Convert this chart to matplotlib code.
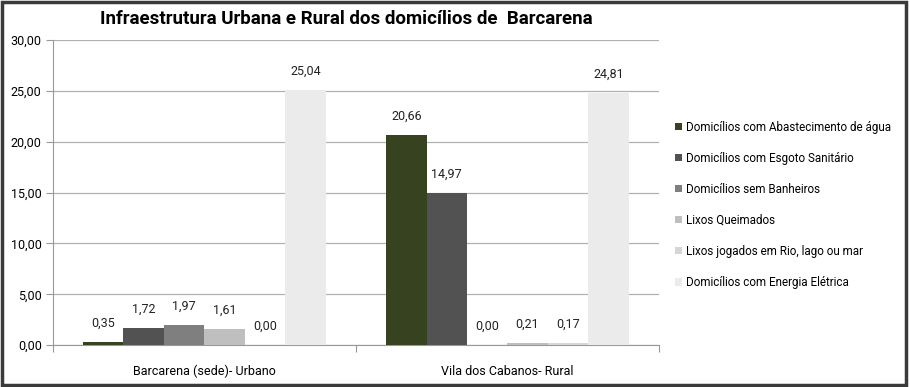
import numpy as np
import matplotlib.pyplot as plt
from matplotlib.patches import Rectangle

plt.rcParams['font.family'] = ['Roboto', 'DejaVu Sans']

categories = ['Barcarena (sede)- Urbano', 'Vila dos Cabanos- Rural']
series = ['Domicílios com Abastecimento de água',
          'Domicílios com Esgoto Sanitário',
          'Domicílios sem Banheiros',
          'Lixos Queimados',
          'Lixos jogados em Rio, lago ou mar',
          'Domicílios com Energia Elétrica']
values = [[0.35, 20.66],
          [1.72, 14.97],
          [1.97, 0.00],
          [1.61, 0.21],
          [0.00, 0.17],
          [25.04, 24.81]]
colors = ['#374220', '#525252', '#7f7f7f', '#bfbfbf', '#d6d6d6', '#ebebeb']

fig = plt.figure(figsize=(9.1, 3.87), dpi=100)
ax = fig.add_axes([0.058, 0.108, 0.666, 0.789])

n = len(series)
w = 1.0 / (n + 1.5)
x = np.arange(len(categories))
for i in range(n):
    pos = x - 0.5 + 0.75 * w + i * w + w / 2
    ax.bar(pos, values[i], width=w, color=colors[i], label=series[i], zorder=3)
    for p, v in zip(pos, values[i]):
        ax.text(p, v + 1.2, f'{v:.2f}'.replace('.', ','), ha='center', va='bottom',
                fontsize=9, color='#222222')

ax.set_xlim(-0.5, 1.5)
ax.set_ylim(0, 30)
ax.set_yticks(np.arange(0, 31, 5))
ax.set_yticklabels([f'{t:.2f}'.replace('.', ',') for t in np.arange(0, 31, 5)], fontsize=9)
ax.set_xticks([-0.5, 0.5, 1.5])
ax.set_xticklabels([])
ax.set_xticks(x, minor=True)
ax.set_xticklabels(categories, minor=True, fontsize=9)
ax.tick_params(axis='x', which='minor', length=0, pad=14)
ax.tick_params(axis='x', which='major', length=5, color='#999999', direction='out')
ax.tick_params(axis='y', length=5, color='#999999', pad=3)
ax.grid(axis='y', color='#b0b0b0', linewidth=0.9, zorder=0)
for s in ['top', 'right']:
    ax.spines[s].set_visible(False)
ax.spines['left'].set_color('#999999')
ax.spines['bottom'].set_color('#999999')

ax.legend(loc='center left', bbox_to_anchor=(1.01, 0.46), frameon=False, fontsize=8.4,
          handlelength=0.6, handleheight=0.6, handletextpad=0.3, labelspacing=1.55)

fig.text(0.381, 0.952, 'Infraestrutura Urbana e Rural dos domicílios de  Barcarena',
         ha='center', va='center', fontsize=13.5, fontweight='bold')

fig.patches.append(Rectangle((0.002, 0.005), 0.994, 0.99, transform=fig.transFigure,
                             fill=False, edgecolor='#3a3a3a', linewidth=2.5))

fig.savefig('out.png', dpi=100)
